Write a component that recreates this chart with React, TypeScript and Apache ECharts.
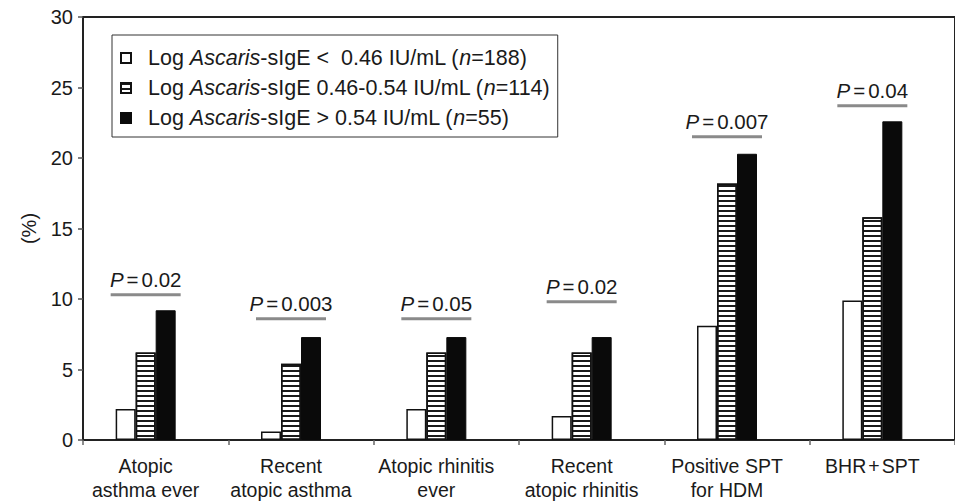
import React, { useEffect, useRef } from "react";
import * as echarts from "echarts";

const FONT = "'Liberation Sans', Arial, Helvetica, sans-serif";
const INK = "#1a1a1a";

const categories = [
  "Atopic\nasthma ever",
  "Recent\natopic asthma",
  "Atopic rhinitis\never",
  "Recent\natopic rhinitis",
  "Positive SPT\nfor HDM",
  "BHR+SPT",
];

const seriesNames = [
  "Log Ascaris-sIgE <  0.46 IU/mL (n=188)",
  "Log Ascaris-sIgE 0.46-0.54 IU/mL (n=114)",
  "Log Ascaris-sIgE > 0.54 IU/mL (n=55)",
];

const lowValues = [2.2, 0.6, 2.2, 1.7, 8.1, 9.9];
const midValues = [6.2, 5.4, 6.2, 6.2, 18.2, 15.8];
const highValues = [9.2, 7.3, 7.3, 7.3, 20.3, 22.6];

const pValues = ["0.02", "0.003", "0.05", "0.02", "0.007", "0.04"];
const pLineLevels = [10.3, 8.6, 8.6, 9.8, 21.5, 23.7];

const spacer = [null, null, null, null, null, null];

const yMin = 0;
const yMax = 30;
const yInterval = 5;

export default function App() {
  const ref = useRef<HTMLDivElement>(null);

  useEffect(() => {
    if (!ref.current) return;
    const chart = echarts.init(ref.current, null, { renderer: "svg" });

    const barBase = {
      type: "bar",
      barWidth: 20,
      barGap: "0%",
      barCategoryGap: "0%",
    };

    const option: any = {
      animation: false,
      backgroundColor: "#ffffff",
      grid: {
        left: 83,
        right: -10,
        top: 17,
        bottom: 62,
        show: true,
        borderColor: "#222",
        borderWidth: 2,
        backgroundColor: "transparent",
      },
      legend: {
        data: seriesNames,
        orient: "vertical",
        left: 112,
        top: 35,
        icon: "rect",
        itemWidth: 10,
        itemHeight: 10,
        itemGap: 8,
        borderColor: "#333",
        borderWidth: 1,
        padding: [12, 8, 8, 8],
        selectedMode: false,
        textStyle: {
          fontSize: 21.5,
          fontFamily: FONT,
          color: INK,
          lineHeight: 20,
          padding: [0, 0, 0, 12],
          rich: {
            i: { fontStyle: "italic", fontSize: 21.5, fontFamily: FONT, color: INK, lineHeight: 20 },
          },
        },
        formatter: (name: string) =>
          name.replace("Ascaris", "{i|Ascaris}").replace("(n=", "({i|n}="),
      },
      xAxis: {
        type: "category",
        data: categories,
        axisLine: { show: true, lineStyle: { color: "#222", width: 2 } },
        axisTick: { show: true, length: 5, lineStyle: { color: "#666", width: 1.5 } },
        axisLabel: {
          fontSize: 19.5,
          lineHeight: 24,
          fontFamily: FONT,
          color: INK,
          margin: 14,
          padding: [0, 20, 0, 0],
          interval: 0,
          formatter: (v: string) => v.replace("+", "{e|+}"),
          rich: {
            e: { fontSize: 19.5, fontFamily: FONT, color: INK, lineHeight: 24, padding: [0, 2, 0, 2] },
          },
        },
        splitLine: { show: false },
      },
      yAxis: {
        type: "value",
        min: yMin,
        max: yMax,
        interval: yInterval,
        name: "(%)",
        nameLocation: "middle",
        nameGap: 44,
        nameTextStyle: { fontSize: 20, fontFamily: FONT, color: INK },
        axisLine: { show: true, lineStyle: { color: "#222", width: 2 } },
        axisTick: { show: true, length: 5, lineStyle: { color: "#555", width: 1.5 } },
        axisLabel: { fontSize: 20, fontFamily: FONT, color: INK, margin: 10 },
        splitLine: { show: false },
      },
      series: [
        {
          ...barBase,
          name: seriesNames[0],
          data: lowValues,
          itemStyle: { color: "#ffffff", borderColor: "#111", borderWidth: 1.5 },
        },
        {
          ...barBase,
          name: seriesNames[1],
          data: midValues,
          itemStyle: {
            color: "#ffffff",
            borderColor: "#111",
            borderWidth: 1.5,
            decal: {
              symbol: "rect",
              symbolSize: 1,
              dashArrayX: [1, 0],
              dashArrayY: [1.4, 2.8],
              rotation: 0,
              color: "#1a1a1a",
            },
          },
        },
        {
          ...barBase,
          name: seriesNames[2],
          data: highValues,
          itemStyle: { color: "#0a0a0a", borderColor: "#0a0a0a", borderWidth: 1 },
        },
        {
          ...barBase,
          name: "spacer",
          data: spacer,
          itemStyle: { color: "transparent" },
          silent: true,
        },
        {
          type: "custom",
          name: "pvalues",
          silent: true,
          clip: false,
          z: 10,
          data: pLineLevels.map((v, i) => [i, v]),
          renderItem: (params: any, api: any) => {
            const idx = api.value(0);
            const pt = api.coord([idx, api.value(1)]);
            const cx = pt[0] - 10;
            return {
              type: "group",
              children: [
                {
                  type: "line",
                  shape: { x1: cx - 35, y1: pt[1], x2: cx + 35, y2: pt[1] },
                  style: { stroke: "#8a8a8a", lineWidth: 3 },
                },
                {
                  type: "text",
                  x: cx,
                  y: pt[1] - 5,
                  style: {
                    text: "{i|P}{e|=}" + pValues[idx],
                    align: "center",
                    verticalAlign: "bottom",
                    fontSize: 20.5,
                    fontFamily: FONT,
                    fill: INK,
                    rich: {
                      i: { fontStyle: "italic", fontSize: 20.5, fontFamily: FONT, fill: INK },
                      e: { fontSize: 20.5, fontFamily: FONT, fill: INK, padding: [0, 3, 0, 3] },
                    },
                  },
                },
              ],
            };
          },
        },
      ],
    };

    chart.setOption(option);
    return () => chart.dispose();
  }, []);

  return (
    <div
      ref={ref}
      style={{ position: "fixed", left: 0, top: 0, width: 955, height: 502, background: "#fff" }}
    />
  );
}
